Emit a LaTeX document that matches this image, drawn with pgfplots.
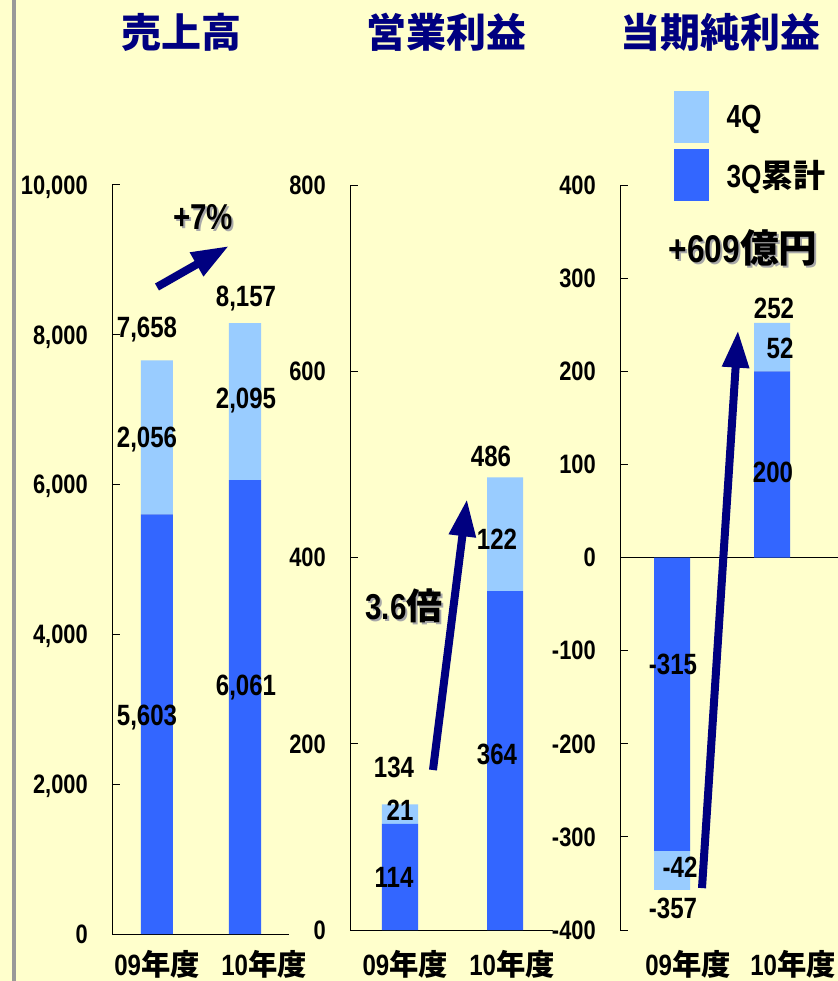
\documentclass[border=0pt]{standalone}
\usepackage{pgfplots}
\pgfplotsset{compat=1.18}
\usetikzlibrary{arrows.meta}
\usepackage{fontspec}
\setmainfont{Liberation Sans}[FakeStretch=0.82]
\newfontfamily\cjk{Noto Sans CJK JP}

\definecolor{bgYellow}{HTML}{FFFFCC}
\definecolor{q3Blue}{HTML}{3366FF}
\definecolor{q4Blue}{HTML}{99CCFF}
\definecolor{arrowNavy}{HTML}{000080}
\definecolor{edgeGray}{HTML}{999999}
\definecolor{shadowGray}{HTML}{A8A8A8}

\tikzset{
  bigarrow/.style={arrowNavy, line width=6pt, -{Triangle[length=28pt, width=19pt]}},
}
\pgfplotsset{
  panel/.style={
    scale only axis,
    anchor=south west,
    clip=false,
    ybar stacked,
    scaled y ticks=false,
    axis x line*=bottom,
    axis y line*=left,
    axis line style={black, line width=0.75pt, -},
    every outer x axis line/.append style={-},
    every outer y axis line/.append style={-},
    xtick style={draw=none},
    ytick style={black, line width=0.75pt},
    major tick length=6pt,
    tick align=inside,
    ytick pos=left,
    y tick label style={font=\fontsize{20}{20}\selectfont\bfseries, anchor=base east, inner sep=0pt, xshift=-18pt, yshift=-7pt},
    x tick label style={font=\fontsize{22}{22}\selectfont\bfseries, anchor=base, inner sep=0pt},
    xticklabels={09{\cjk 年度},10{\cjk 年度}},
  },
}

\begin{document}
\begin{tikzpicture}
  \useasboundingbox (0,0) rectangle (628.5pt,735.75pt);
  \fill[bgYellow] (0,0) rectangle (628.5pt,735.75pt);

  % 売上高
  \begin{axis}[
    panel,
    at={(84pt,35.25pt)},
    width=132.75pt, height=561.75pt,
    xmin=-0.511, xmax=1.5,
    ymin=0, ymax=10000,
    ytick={0,2000,4000,6000,8000,10000},
    yticklabels={0,{2,000},{4,000},{6,000},{8,000},{10,000}},
    xtick={0,1.216},
    x tick label style={yshift=-30.75pt},
    bar width=0.364,
  ]
    \addplot[fill=q3Blue, draw=none] coordinates {(0,5603) (1,6061)};
    \addplot[fill=q4Blue, draw=none] coordinates {(0,2056) (1,2095)};
    \draw[bigarrow] (axis cs:0,8638) -- (axis cs:0.818,9186);
  \end{axis}

  % 営業利益
  \begin{axis}[
    panel,
    at={(262.5pt,38.25pt)},
    width=152.25pt, height=558.75pt,
    xmin=-0.476, xmax=1.457,
    ymin=0, ymax=800,
    ytick={0,200,400,600,800},
    yticklabels={0,200,400,600,800},
    xtick={0.05,1.067},
    x tick label style={yshift=-33.75pt},
    bar width=0.343,
  ]
    \addplot[fill=q3Blue, draw=none] coordinates {(0,114) (1,364)};
    \addplot[fill=q4Blue, draw=none] coordinates {(0,21) (1,122)};
    \draw[bigarrow] (axis cs:0.314,171.8) -- (axis cs:0.638,462.8);
  \end{axis}

  % 当期純利益
  \begin{axis}[
    panel,
    at={(465pt,38.25pt)},
    width=163.5pt, height=558.75pt,
    xmin=-0.52, xmax=1.66,
    ymin=-400, ymax=400,
    ytick={-400,-300,-200,-100,0,100,200,300,400},
    yticklabels={-400,-300,-200,-100,0,100,200,300,400},
    xtick={0.16,1.21},
    x tick label style={yshift=-33.75pt},
    x axis line style={draw=none},
    extra y ticks={0},
    extra y tick labels={},
    extra y tick style={grid=major, major grid style={black, line width=0.75pt}},
    bar width=0.36,
    reverse legend,
    legend image code/.code={\fill[#1] (0pt,-19.5pt) rectangle (26.25pt,19.5pt);},
    legend style={at={(0.2477,1.126)}, anchor=north west, draw=none, fill=none,
      inner sep=0pt, row sep=4.5pt, column sep=11pt,
      font=\fontsize{24}{24}\selectfont\bfseries, cells={anchor=west}},
  ]
    \addplot[fill=q3Blue, draw=none] coordinates {(0,-315) (1,200)};
    \addlegendentry{3Q{\cjk 累計}}
    \addplot[fill=q4Blue, draw=none] coordinates {(0,-42) (1,52)};
    \addlegendentry{4Q}
    \draw[bigarrow] (axis cs:0.30,-355) -- (axis cs:0.66,244);
  \end{axis}

  \begin{scope}[x=0.75pt, y=-0.75pt, shift={(0pt,735.75pt)}]
    \fill[edgeGray] (12,0) rectangle (16,981);

    \tikzset{
      ttl/.style={font=\fontsize{30}{30}\selectfont\cjk\bfseries, text=arrowNavy, inner sep=0pt},
      vl/.style={font=\fontsize{22}{22}\selectfont\bfseries, anchor=base, inner sep=0pt, yshift=-7.9pt},
      big/.style={font=\fontsize{27}{27}\selectfont\bfseries, anchor=base, inner sep=0pt},
    }
    \node[ttl] at (181.5,32.5) {売上高};
    \node[ttl] at (446,32.5) {営業利益};
    \node[ttl] at (720,32.5) {当期純利益};

    % value labels
    \node[vl] at (147,715) {5,603};
    \node[vl] at (147,437) {2,056};
    \node[vl] at (147,327) {7,658};
    \node[vl] at (246,685) {6,061};
    \node[vl] at (246,398) {2,095};
    \node[vl] at (246,296) {8,157};

    \node[vl] at (394,877) {114};
    \node[vl] at (400,810) {21};
    \node[vl] at (394,767) {134};
    \node[vl] at (497,754) {364};
    \node[vl] at (497,539) {122};
    \node[vl] at (491,456) {486};

    \node[vl] at (673,664) {-315};
    \node[vl] at (680,867) {-42};
    \node[vl] at (673,908) {-357};
    \node[vl] at (773,472) {200};
    \node[vl] at (780,348) {52};
    \node[vl] at (774,308) {252};

    % growth notes with drop shadow
    \node[big, text=shadowGray] at (205,232) {+7\%};
    \node[big] at (203,230) {+7\%};
    \node[big, text=shadowGray] at (406,622) {3.6{\cjk 倍}};
    \node[big] at (404,620) {3.6{\cjk 倍}};
    \node[big, font=\fontsize{29}{29}\selectfont\bfseries, text=shadowGray] at (745,265) {+609{\cjk 億円}};
    \node[big, font=\fontsize{29}{29}\selectfont\bfseries] at (743,263) {+609{\cjk 億円}};
  \end{scope}
\end{tikzpicture}
\end{document}
